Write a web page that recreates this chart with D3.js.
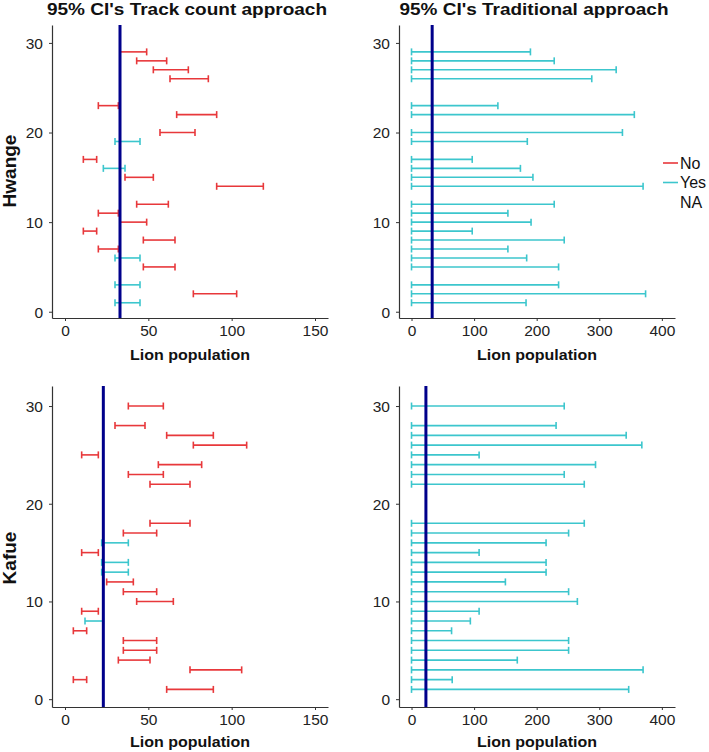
<!DOCTYPE html>
<html>
<head>
<meta charset="utf-8">
<script src="https://cdn.jsdelivr.net/npm/d3@7"></script>
<style>
  body { margin: 0; background: #fff; }
  svg { display: block; font-family: "Liberation Sans", Arial, sans-serif; }
  .tick text { fill: #222; font-size: 15.5px; }
  .tick line, .domain { stroke: #333; }
</style>
</head>
<body>
<svg width="709" height="752"></svg>
<script>
// ---- data ----
const titles = ["95% CI's Track count approach", "95% CI's Traditional approach"];
const regions = ["Hwange", "Kafue"];
const trueValue = { Hwange: 33, Kafue: 23 };

// simulation ids (y position) per region
const hwRows = [1, 2, 3, 5, 6, 7, 8, 9, 10, 11, 12, 14, 15, 16, 17, 19, 20, 22, 23, 26, 27, 28, 29];
const kfRows = [1, 2, 3, 4, 5, 6, 7, 8, 9, 10, 11, 12, 13, 14, 15, 16, 17, 18, 22, 23, 24, 25, 26, 27, 28, 30];

// track count approach, lower / upper CI and whether it covers the true value
const hwTrackLo = [30, 77, 30, 47, 30, 20, 47, 11, 33, 20, 43, 91, 36, 23, 11, 30, 57, 67, 20, 63, 53, 43, 33];
const hwTrackHi = [45, 103, 45, 66, 45, 32, 66, 19, 49, 32, 62, 119, 53, 36, 19, 45, 78, 91, 32, 86, 74, 61, 49];
const hwTrackOk = ["Yes", "No", "Yes", "No", "Yes", "No", "No", "No", "No", "No", "No", "No", "No", "Yes", "No", "Yes", "No", "No", "No", "No", "No", "No", "No"];

const kfTrackLo = [61, 5, 75, 32, 35, 35, 5, 12, 10, 43, 35, 25, 22, 22, 10, 22, 35, 51, 51, 38, 56, 10, 77, 61, 30, 38];
const kfTrackHi = [89, 13, 106, 51, 55, 55, 13, 23, 20, 65, 55, 41, 38, 38, 20, 38, 55, 75, 75, 59, 82, 20, 109, 89, 48, 59];
const kfTrackOk = ["No", "No", "No", "No", "No", "No", "No", "Yes", "No", "No", "No", "No", "Yes", "Yes", "No", "Yes", "No", "No", "No", "No", "No", "No", "No", "No", "No", "No"];

// traditional approach, all lower bounds at 0
const hwTradHi = [183, 374, 235, 235, 184, 154, 244, 97, 191, 154, 228, 370, 194, 174, 97, 185, 337, 356, 138, 288, 327, 228, 190];
const kfTradHi = [347, 65, 370, 169, 251, 251, 64, 94, 108, 265, 251, 150, 215, 215, 108, 215, 251, 276, 276, 244, 294, 108, 368, 343, 231, 244];

const legendKeys = ["No", "Yes", "NA"];
const colour = { No: "#e8383b", Yes: "#3cc6cd" };

const trackTicks = [0, 50, 100, 150];
const tradTicks = [0, 100, 200, 300, 400];
const yTicks = [0, 10, 20, 30];

// ---- layout ----
const svg = d3.select("svg");
const COLS = [{ x0: 52, x1: 328 }, { x0: 399, x1: 675 }];
const ROWS = [{ y0: 25, y1: 318, dom: [-0.7, 32] }, { y0: 386, y1: 707, dom: [-0.8, 32.05] }];
const XDOM = [[-7.8, 157.8], [-20, 421]];
const CAP = 3.5;

const panels = [
    { r: 0, c: 0, rows: hwRows, lo: hwTrackLo, hi: hwTrackHi, ok: hwTrackOk, region: "Hwange" },
    { r: 0, c: 1, rows: hwRows, lo: hwRows.map(() => 0), hi: hwTradHi, ok: hwRows.map(() => "Yes"), region: "Hwange" },
    { r: 1, c: 0, rows: kfRows, lo: kfTrackLo, hi: kfTrackHi, ok: kfTrackOk, region: "Kafue" },
    { r: 1, c: 1, rows: kfRows, lo: kfRows.map(() => 0), hi: kfTradHi, ok: kfRows.map(() => "Yes"), region: "Kafue" }
];

panels.forEach(p => {
    const col = COLS[p.c], row = ROWS[p.r];
    const x = d3.scaleLinear().domain(XDOM[p.c]).range([col.x0, col.x1]);
    const y = d3.scaleLinear().domain(row.dom).range([row.y1, row.y0]);
    const g = svg.append("g");

    g.append("g")
        .attr("transform", `translate(0,${row.y1})`)
        .call(d3.axisBottom(x).tickValues(p.c === 0 ? trackTicks : tradTicks).tickSize(3).tickSizeOuter(0).tickPadding(4))
        .call(a => a.select(".domain").attr("stroke-width", 1.2));

    g.append("g")
        .attr("transform", `translate(${col.x0},0)`)
        .call(d3.axisLeft(y).tickValues(yTicks).tickSize(3).tickSizeOuter(0).tickPadding(6))
        .call(a => a.select(".domain").attr("stroke-width", 1.2))
        .call(a => a.selectAll(".tick text").attr("dy", "0.35em"));

    const d = p.rows.map((v, i) => ({ row: v, lo: p.lo[i], hi: p.hi[i], ok: p.ok[i] }));
    const bars = g.append("g")
        .attr("stroke-width", 1.6)
        .selectAll("g")
        .data(d)
        .join("g")
        .attr("stroke", e => colour[e.ok]);

    bars.append("line")
        .attr("x1", e => x(e.lo)).attr("x2", e => x(e.hi))
        .attr("y1", e => y(e.row)).attr("y2", e => y(e.row));
    bars.append("line")
        .attr("x1", e => x(e.lo)).attr("x2", e => x(e.lo))
        .attr("y1", e => y(e.row) - CAP).attr("y2", e => y(e.row) + CAP);
    bars.append("line")
        .attr("x1", e => x(e.hi)).attr("x2", e => x(e.hi))
        .attr("y1", e => y(e.row) - CAP).attr("y2", e => y(e.row) + CAP);

    // true population
    g.append("line")
        .attr("x1", x(trueValue[p.region])).attr("x2", x(trueValue[p.region]))
        .attr("y1", row.y0).attr("y2", row.y1)
        .attr("stroke", "#00008b")
        .attr("stroke-width", 3);

    g.append("text")
        .attr("x", (col.x0 + col.x1) / 2)
        .attr("y", p.r === 0 ? 360 : 747)
        .attr("text-anchor", "middle")
        .attr("font-size", 15)
        .attr("font-weight", "bold")
        .attr("fill", "#111")
        .attr("textLength", 120)
        .attr("lengthAdjust", "spacingAndGlyphs")
        .text("Lion population");
});

titles.forEach((t, i) => {
    svg.append("text")
        .attr("x", (COLS[i].x0 + COLS[i].x1) / 2 - 3)
        .attr("y", 14.5)
        .attr("text-anchor", "middle")
        .attr("font-size", 16.5)
        .attr("font-weight", "bold")
        .attr("fill", "#111")
        .attr("textLength", i === 0 ? 280 : 269)
        .attr("lengthAdjust", "spacingAndGlyphs")
        .text(t);
});

regions.forEach((t, i) => {
    const cy = i === 0 ? 171 : 558;
    svg.append("text")
        .attr("transform", `translate(16,${cy}) rotate(-90)`)
        .attr("text-anchor", "middle")
        .attr("font-size", 19)
        .attr("font-weight", "bold")
        .attr("fill", "#111")
        .text(t);
});

// legend
const leg = svg.append("g")
    .selectAll("g")
    .data(legendKeys)
    .join("g")
    .attr("transform", (k, i) => `translate(663,${163 + i * 19.5})`);

leg.filter(k => colour[k])
    .append("line")
    .attr("x1", 0).attr("x2", 15)
    .attr("stroke", k => colour[k])
    .attr("stroke-width", 1.6);

leg.append("text")
    .attr("x", 17)
    .attr("dy", "0.35em")
    .attr("font-size", 16)
    .attr("fill", "#111")
    .text(k => k);
</script>
</body>
</html>
